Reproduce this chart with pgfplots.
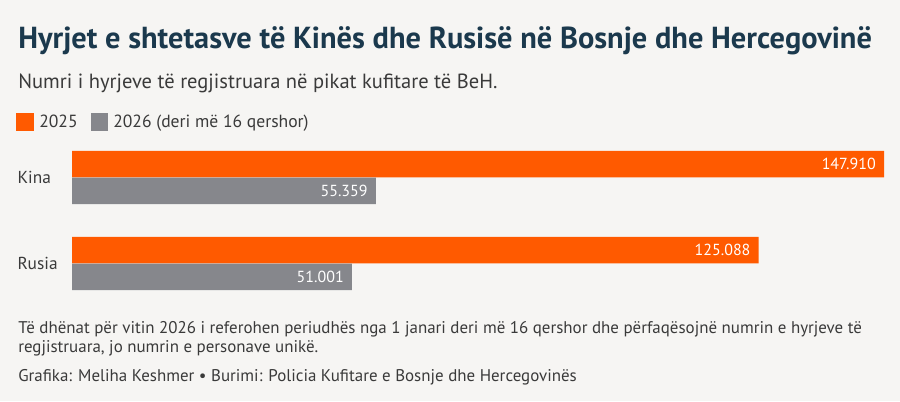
\documentclass[border=0pt]{standalone}
\usepackage{fontspec}
\setmainfont{PT Sans}
\usepackage{pgfplots}
\pgfplotsset{compat=1.18}
\definecolor{bg}{HTML}{F6F5F3}
\definecolor{orng}{HTML}{FF5A00}
\definecolor{gry}{HTML}{86878C}
\definecolor{ttl}{HTML}{1B394D}
\definecolor{txt}{HTML}{3A3A3A}
\pgfplotstableread{
c v lab
0 147910 147.910
1 125088 125.088
}\tbla
\pgfplotstableread{
c v lab
0 55359 55.359
1 51001 51.001
}\tblb
\begin{document}
\begin{tikzpicture}[x=0.75pt,y=-0.75pt]
\path[use as bounding box] (0,0) rectangle (900,401);
\fill[bg] (0,0) rectangle (900,401);
\node[anchor=base west, inner sep=0pt, text=ttl, font=\fontsize{22.8}{27}\selectfont\bfseries] at (18,48) {Hyrjet e shtetasve të Kinës dhe Rusisë në Bosnje dhe Hercegovinë};
\node[anchor=base west, inner sep=0pt, text=txt, font=\fontsize{15.4}{18}\selectfont] at (18,88) {Numri i hyrjeve të regjistruara në pikat kufitare të BeH.};
\fill[orng] (16,113) rectangle (34,131);
\node[anchor=base west, inner sep=0pt, text=txt, font=\fontsize{13.2}{16}\selectfont] at (39,127) {2025};
\fill[gry] (91,113) rectangle (108,131);
\node[anchor=base west, inner sep=0pt, text=txt, font=\fontsize{13.2}{16}\selectfont] at (113,127) {2026 (deri më 16 qershor)};
\begin{axis}[at={(0,0)}, anchor=north west, width=675pt, height=300.75pt, scale only axis,
  xmin=-13115, xmax=150824, ymin=-2.064, ymax=2.5988, y dir=reverse,
  xbar, bar width=19.875pt, clip=false,
  axis line style={draw=none}, tick style={draw=none}, xtick=\empty,
  ytick={0,1}, yticklabels={Kina,Rusia},
  yticklabel style={anchor=west, inner sep=0pt, xshift=17.25pt, text=txt, font=\fontsize{13}{15}\selectfont},
  point meta=explicit symbolic, nodes near coords,
  every node near coord/.append style={anchor=east, inner sep=0pt, xshift=-6pt, text=white, font=\fontsize{12}{14}\selectfont}]
\addplot[fill=orng, draw=none, bar shift=10pt] table[x=v, y=c, meta=lab] {\tbla};
\addplot[fill=gry, draw=none, bar shift=-10pt] table[x=v, y=c, meta=lab] {\tblb};
\end{axis}
\node[anchor=base west, inner sep=0pt, text=txt, font=\fontsize{12.7}{15}\selectfont] at (18,333) {Të dhënat për vitin 2026 i referohen periudhës nga 1 janari deri më 16 qershor dhe përfaqësojnë numrin e hyrjeve të};
\node[anchor=base west, inner sep=0pt, text=txt, font=\fontsize{12.7}{15}\selectfont] at (18,352) {regjistruara, jo numrin e personave unikë.};
\node[anchor=base west, inner sep=0pt, text=txt, font=\fontsize{12.7}{15}\selectfont] at (18,381) {Grafika: Meliha Keshmer • Burimi: Policia Kufitare e Bosnje dhe Hercegovinës};
\end{tikzpicture}
\end{document}
